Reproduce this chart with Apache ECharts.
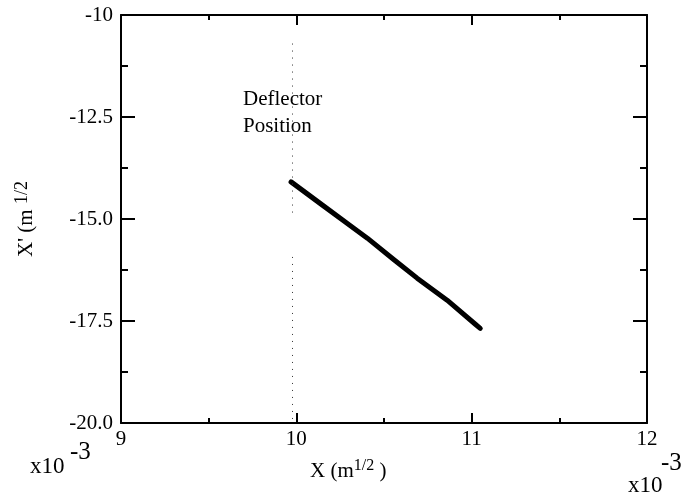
<!DOCTYPE html>
<html>
<head>
<meta charset="utf-8">
<script src="https://cdn.jsdelivr.net/npm/echarts@6/dist/echarts.min.js"></script>
<style>
  html, body { margin: 0; padding: 0; background: #fff; }
  #container { width: 687px; height: 496px; }
</style>
</head>
<body>
<div id="container"></div>
<script>
  var dom = document.getElementById('container');
  var myChart = echarts.init(dom, null, { renderer: 'canvas' });

  // trajectory (x10^-3)
  var xVals = [9.970, 10.149, 10.291, 10.405, 10.557, 10.689, 10.860, 11.021, 11.049];
  var yVals = [-14.09, -14.66, -15.11, -15.47, -16.00, -16.45, -16.99, -17.58, -17.68];
  var deflectorX = 9.975;
  var xTickLabels = { '9': '9', '10': '10', '11': '11', '12': '12' };
  var yTickLabels = { '-10': '-10', '-12.5': '-12.5', '-15': '-15.0', '-17.5': '-17.5', '-20': '-20.0' };

  var serif = "'Liberation Serif', 'DejaVu Serif', serif";
  var lineData = xVals.map(function (x, i) { return [x, yVals[i]]; });

  function xAxisBase(pos, showLabels) {
    return {
      type: 'value', position: pos, min: 9, max: 12, interval: 1,
      axisLine: { show: true, onZero: false, lineStyle: { color: '#000', width: 2 } },
      axisTick: { show: true, inside: true, length: 10, lineStyle: { color: '#000', width: 2 } },
      minorTick: { show: true, splitNumber: 2, length: 5, lineStyle: { color: '#000', width: 2 } },
      splitLine: { show: false },
      axisLabel: {
        show: showLabels, margin: 6, color: '#000', fontFamily: serif, fontSize: 21,
        formatter: function (v) { return xTickLabels[String(v)] || ''; }
      }
    };
  }
  function yAxisBase(pos, showLabels) {
    return {
      type: 'value', position: pos, min: -20, max: -10, interval: 2.5,
      axisLine: { show: true, onZero: false, lineStyle: { color: '#000', width: 2 } },
      axisTick: { show: true, inside: true, length: 14, lineStyle: { color: '#000', width: 2 } },
      minorTick: { show: true, splitNumber: 2, length: 7, lineStyle: { color: '#000', width: 2 } },
      splitLine: { show: false },
      axisLabel: {
        show: showLabels, margin: 8, color: '#000', fontFamily: serif, fontSize: 21,
        formatter: function (v) { return yTickLabels[String(v)] || ''; }
      }
    };
  }

  var xBottom = xAxisBase('bottom', true);
  var xTop = xAxisBase('top', false);
  var yLeft = yAxisBase('left', true);
  yLeft.name = "X' (m {s|1/2}";
  yLeft.nameLocation = 'middle';
  yLeft.nameRotate = 90;
  yLeft.nameGap = 82;
  yLeft.nameTextStyle = {
    color: '#000', fontFamily: serif, fontSize: 21,
    rich: { s: { fontFamily: serif, fontSize: 18, color: '#000', padding: [0, 0, 8, 0] } }
  };
  var yRight = yAxisBase('right', false);

  var option = {
    animation: false,
    backgroundColor: '#fff',
    grid: { left: 121, right: 40, top: 15, bottom: 73, containLabel: false, outerBoundsMode: 'none' },
    xAxis: [xBottom, xTop],
    yAxis: [yLeft, yRight],
    graphic: [
      { type: 'text', left: 243, top: 86, style: { text: 'Deflector\nPosition', font: "21px " + serif, fill: '#000', lineHeight: 27 } },
      { type: 'text', left: 310, top: 458, style: {
          text: 'X (m{s|1/2} )', font: "21px " + serif, fill: '#000',
          rich: { s: { fontFamily: serif, fontSize: 16, fill: '#000', padding: [0, 0, 10, 0] } } } },
      { type: 'text', left: 30, top: 455, style: { text: 'x10', font: "23px " + serif, fill: '#000' } },
      { type: 'text', left: 70, top: 440, style: { text: '-3', font: "25px " + serif, fill: '#000' } },
      { type: 'text', left: 628, top: 474, style: { text: 'x10', font: "23px " + serif, fill: '#000' } },
      { type: 'text', left: 661, top: 451, style: { text: '-3', font: "25px " + serif, fill: '#000' } }
    ],
    series: [
      {
        type: 'line',
        xAxisIndex: 0, yAxisIndex: 0,
        data: lineData,
        showSymbol: false,
        symbol: 'none',
        lineStyle: { color: '#000', width: 5, cap: 'round', join: 'round' },
        markLine: {
          silent: true,
          symbol: 'none',
          label: { show: false },
          lineStyle: { color: '#333', width: 1, type: [1, 6] },
          data: [
            [{ coord: [deflectorX, -10.7] }, { coord: [deflectorX, -14.95] }],
            [{ coord: [deflectorX, -15.93] }, { coord: [deflectorX, -19.95] }]
          ]
        }
      }
    ]
  };

  myChart.setOption(option);
  window.addEventListener('resize', myChart.resize);
</script>
</body>
</html>
